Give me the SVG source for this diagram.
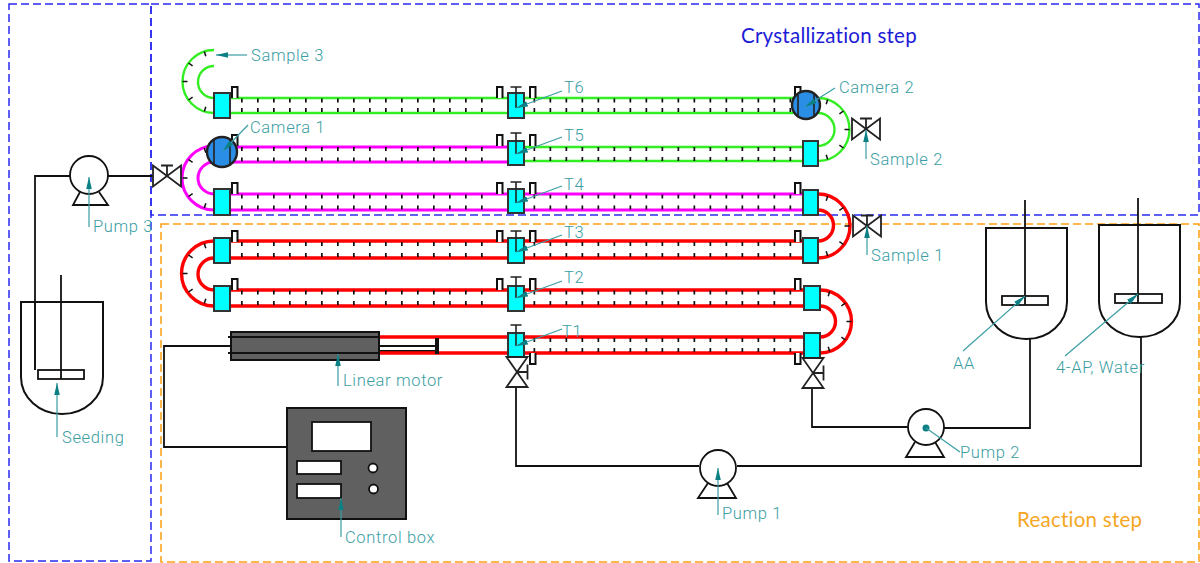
<svg xmlns="http://www.w3.org/2000/svg" xmlns:xlink="http://www.w3.org/1999/xlink" width="1200" height="563" viewBox="0 0 1200 563">
<style>
text{font-family:"Roboto","Liberation Sans",sans-serif;font-weight:300;font-size:16.5px;fill:#3a9ea3;letter-spacing:.65px}
.title{font-family:"Lato","Liberation Sans",sans-serif;font-weight:400;font-size:20.5px;letter-spacing:.25px}
.region{fill:none;stroke-width:1.5;stroke-dasharray:8 4}
.tube,.arc{fill:none;stroke-width:2.4}
.r{stroke:#ff0000;stroke-width:3.4}.g{stroke:#33ee22}.m{stroke:#ff00ff;stroke-width:3}
.tick{fill:none;stroke:#111;stroke-width:4;stroke-dasharray:1.7 14.3}
.bt{fill:none;stroke:#111;stroke-width:1.5}
.pipe{fill:none;stroke:#111;stroke-width:1.8}
.box{fill:#00ffff;stroke:#333;stroke-width:2}
.cam{fill:#2b8ee6;stroke:#222;stroke-width:2.4}
.eq{fill:#fff;stroke:#111;stroke-width:1.8}
.thin{fill:none;stroke:#222;stroke-width:1.6}
.dark{fill:#606060;stroke:#111;stroke-width:2}
.lead{fill:none;stroke:#3a9ea3;stroke-width:1.2}
.arw{marker-end:url(#head)}
</style>
<defs>
<marker id="head" viewBox="0 0 12 6" markerUnits="userSpaceOnUse" markerWidth="12" markerHeight="6" refX="12" refY="3" orient="auto"><path d="M0 0.2L12 3L0 5.800Z" fill="#0b8085"/></marker>
<path id="tl" d="M-9.7-30L-8.2-25.2M-25.5-18.5L-21.4-15.6M-31.5 0L-26.5 0M-25.5 18.5L-21.4 15.6M-9.7 30L-8.2 25.2"/>
<path id="tr" d="M9.7-30L8.2-25.2M25.5-18.5L21.4-15.6M31.5 0L26.5 0M25.5 18.5L21.4 15.6M9.7 30L8.2 25.2"/>
<path id="sensor" d="M0 11V0H5.500V11" fill="#fff" stroke="#111" stroke-width="2"/>
<path id="stem" d="M-5.500 0H5.500M0 0V21" fill="none" stroke="#222" stroke-width="1.600"/>
<path id="hvalve" d="M-14-10.500L14 10.500V-10.500L-14 10.500Z M0 0V-10.500M-6-10.500H6" fill="#fff" stroke="#222" stroke-width="1.800"/>
<path id="vvalve" d="M-10.500-15L10.500-15L-10.500 15L10.500 15Z M0 0H10.500M10.500-7.500V7.500" fill="#fff" stroke="#222" stroke-width="1.800"/>
</defs>

<g id="regions">
<rect class="region" x="9" y="4" width="142" height="557" stroke="#2a2aee"/>
<rect class="region" x="151" y="4" width="1048" height="211" stroke="#2a2aee"/>
<rect class="region" x="161" y="224" width="1038" height="338" stroke="#ff9f10"/>
<text class="title" x="741" y="43" style="fill:#1c1cd6">Crystallization step</text>
<text class="title" x="1017" y="527" style="fill:#f5a623">Reaction step</text>
</g>

<g id="connectors">
<g id="pipes">
<path class="pipe" d="M70 176H35V370"/>
<path class="pipe" d="M108 176H153"/>
<path class="pipe" d="M231 346H164V447H287"/>
<path class="pipe" d="M516 388V466H699"/>
<path class="pipe" d="M737 466H1141V337"/>
<path class="pipe" d="M812 388V427H908"/>
<path class="pipe" d="M944 428H1030V339"/>
<path class="pipe" d="M379 346H436M379 351H436"/>
</g>
<g id="tubes">
<path class="tube g" d="M230 98H803M230 113H803"/>
<path class="arc g" d="M214 50A31.500 31.500 0 0 0 214 113M214 66A16 16 0 0 0 214 98"/>
<path class="arc g" d="M818 98A31.500 31.500 0 0 1 818 161M818 113A16.500 16.500 0 0 1 818 146"/>
<path class="tube m" d="M230 147H508M230 162H508M230 194H803M230 210H803"/>
<path class="tube g" d="M524 147H803M524 161H803"/>
<path class="arc m" d="M214 146A32 32 0 0 0 214 210M214 162A16 16 0 0 0 214 194"/>
<path class="tube r" d="M230 241H803M230 258H803M230 290H804M230 306H804M379 337H508M379 353H508M524 337H804M524 353H804"/>
<path class="arc r" d="M214 241A32.500 32.500 0 0 0 214 306M214 258A16 16 0 0 0 214 290"/>
<path class="arc r" d="M818 194A32 32 0 0 1 818 258M818 210A15.500 15.500 0 0 1 818 241"/>
<path class="arc r" d="M820 290A31.500 31.500 0 0 1 820 353M820 306A15.500 15.500 0 0 1 820 337"/>
<g class="tick">
<path d="M241 100.500H484M241 110H484M533.500 100.500H792M533.500 110H792"/>
<path d="M241 149H484M241 159.500H484M533.500 149H792M533.500 159H792"/>
<path d="M241 196.500H484M241 207.500H484M533.500 196.500H792M533.500 207.500H792"/>
<path d="M241 244H484M241 255H484M533.500 244H792M533.500 255H792"/>
<path d="M241 292.500H484M241 303H484M533.500 292.500H792M533.500 303H792"/>
<path d="M533.500 340H792M533.500 350H792"/>
</g>
<use class="bt" href="#tl" x="214" y="81.500"/>
<use class="bt" href="#tl" x="214" y="178"/>
<use class="bt" href="#tl" x="214" y="273.500"/>
<use class="bt" href="#tr" x="818" y="129.500"/>
<use class="bt" href="#tr" x="818" y="226"/>
<use class="bt" href="#tr" x="820" y="321.500"/>
</g>
</g>

<g id="sensors">
<use href="#sensor" x="232" y="87"/><use href="#sensor" x="497" y="87"/><use href="#sensor" x="530" y="87"/><use href="#sensor" x="795" y="87"/>
<use href="#sensor" x="232" y="135"/><use href="#sensor" x="497" y="135"/><use href="#sensor" x="530" y="135"/>
<use href="#sensor" x="232" y="183"/><use href="#sensor" x="497" y="183"/><use href="#sensor" x="530" y="183"/><use href="#sensor" x="795" y="183"/>
<use href="#sensor" x="232" y="231"/><use href="#sensor" x="497" y="231"/><use href="#sensor" x="530" y="231"/><use href="#sensor" x="795" y="231"/>
<use href="#sensor" x="232" y="279"/><use href="#sensor" x="497" y="279"/><use href="#sensor" x="530" y="279"/><use href="#sensor" x="795" y="279"/>
<path d="M530 353V364H535.500V353M795 353V364H800.500V353" fill="#fff" stroke="#111" stroke-width="2"/>
</g>

<g id="boxes">
<rect class="box" x="214" y="93" width="16" height="25"/>
<rect class="box" x="214" y="189" width="16" height="26"/>
<rect class="box" x="214" y="238" width="16" height="25"/>
<rect class="box" x="214" y="286" width="16" height="25"/>
<rect class="box" x="508" y="93" width="16" height="25"/>
<rect class="box" x="508" y="141" width="16" height="24"/>
<rect class="box" x="508" y="189" width="16" height="24"/>
<rect class="box" x="508" y="238" width="16" height="25"/>
<rect class="box" x="508" y="286" width="16" height="25"/>
<rect class="box" x="508" y="333" width="16" height="24"/>
<rect class="box" x="803" y="141" width="15" height="25"/>
<rect class="box" x="803" y="190" width="15" height="25"/>
<rect class="box" x="803" y="238" width="15" height="25"/>
<rect class="box" x="804" y="286" width="16" height="24"/>
<rect class="box" x="804" y="333" width="16" height="25"/>
<use href="#stem" x="516" y="87"/><use href="#stem" x="516" y="133"/><use href="#stem" x="516" y="182"/>
<use href="#stem" x="516" y="231"/><use href="#stem" x="516" y="277"/><use href="#stem" x="516" y="325"/>
</g>

<g id="camera-1"><circle class="cam" cx="222" cy="152" r="15"/><path class="thin" d="M214 139V165M230 139V165"/></g>
<g id="camera-2"><circle class="cam" cx="806" cy="105" r="14"/><path class="thin" d="M798 93V117M814 93V117"/></g>

<use id="valve-seed" href="#hvalve" x="167" y="176"/>
<use id="valve-sample-2" href="#hvalve" x="866" y="129"/>
<use id="valve-sample-1" href="#hvalve" x="867" y="226"/>
<use id="valve-t1" href="#vvalve" x="517" y="372"/>
<use id="valve-right" href="#vvalve" x="813" y="373"/>

<g id="linear-motor">
<rect class="dark" x="231" y="332" width="148" height="28"/>
<path d="M228 337H379M228 353H379" fill="none" stroke="#111" stroke-width="1.800"/>
<rect x="435" y="338" width="4" height="16" fill="#111"/>
</g>

<g id="control-box">
<rect class="dark" x="287" y="408" width="119" height="111"/>
<rect class="eq" x="312" y="422" width="59" height="29"/>
<rect class="eq" x="297" y="461" width="44" height="13"/>
<rect class="eq" x="297" y="484" width="44" height="14"/>
<circle class="eq" cx="373" cy="468" r="4.500"/>
<circle class="eq" cx="373.500" cy="489" r="4.500"/>
</g>

<g id="pump-3"><path class="eq" d="M80 192L73 205H108L99 192"/><circle class="eq" cx="89" cy="175" r="19"/></g>
<g id="pump-1"><path class="eq" d="M708 483L698 498H736L727 483"/><circle class="eq" cx="718" cy="468" r="18"/></g>
<g id="pump-2"><path class="eq" d="M915 442L906 457H944L935 442"/><circle class="eq" cx="926" cy="427" r="18"/><circle cx="926" cy="428" r="3.500" fill="#0b8085"/></g>

<g id="tank-seeding">
<path class="pipe" style="stroke-width:2" d="M21 302H103V377A41 37 0 0 1 21 377Z"/>
<path class="pipe" d="M35 302V370M61 275V379"/>
<rect x="38" y="370" width="46" height="9" fill="none" stroke="#111" stroke-width="1.800"/>
</g>
<g id="tank-aa">
<path class="pipe" style="stroke-width:2" d="M986 228H1067V302A40.500 37 0 0 1 986 302Z"/>
<path class="pipe" d="M1025 200V305"/>
<rect x="1002" y="296" width="46" height="9" fill="none" stroke="#111" stroke-width="1.800"/>
</g>
<g id="tank-4ap">
<path class="pipe" style="stroke-width:2" d="M1099 225H1180V302A40.500 35 0 0 1 1099 302Z"/>
<path class="pipe" d="M1138 198V303"/>
<rect x="1115" y="294" width="47" height="9" fill="none" stroke="#111" stroke-width="1.800"/>
</g>

<g id="leaders">
<path class="lead arw" d="M247 55H216"/>
<path class="lead arw" d="M248 125L223 151"/>
<path class="lead arw" d="M835 88L805 107"/>
<path class="lead arw" d="M562 91L516 108"/>
<path class="lead arw" d="M562 137L516 154"/>
<path class="lead arw" d="M562 186L516 203"/>
<path class="lead arw" d="M562 235L516 252"/>
<path class="lead arw" d="M562 281L516 298"/>
<path class="lead arw" d="M562 329L516 346"/>
<path class="lead arw" d="M866 159V130"/>
<path class="lead arw" d="M867 255V226"/>
<path class="lead arw" d="M338 386V354"/>
<path class="lead arw" d="M89 227V177"/>
<path class="lead arw" d="M57 437V383"/>
<path class="lead arw" d="M341 537V498"/>
<path class="lead arw" d="M718 515V468"/>
<path class="lead" d="M926 428L960 452"/>
<path class="lead arw" d="M963 351L1025 296"/>
<path class="lead arw" d="M1065 356L1138 294"/>
</g>

<g id="labels">
<text x="251" y="61">Sample 3</text>
<text x="250" y="133">Camera 1</text>
<text x="839" y="93">Camera 2</text>
<text x="870" y="165">Sample 2</text>
<text x="871" y="261">Sample 1</text>
<text x="564" y="93">T6</text>
<text x="564" y="141">T5</text>
<text x="564" y="190">T4</text>
<text x="564" y="238">T3</text>
<text x="564" y="283">T2</text>
<text x="562" y="337">T1</text>
<text x="343" y="386">Linear motor</text>
<text x="93" y="232">Pump 3</text>
<text x="62" y="443">Seeding</text>
<text x="345" y="543">Control box</text>
<text x="722" y="519">Pump 1</text>
<text x="960" y="458">Pump 2</text>
<text x="953" y="369">AA</text>
<text x="1056" y="373">4-AP, Water</text>
</g>
</svg>
